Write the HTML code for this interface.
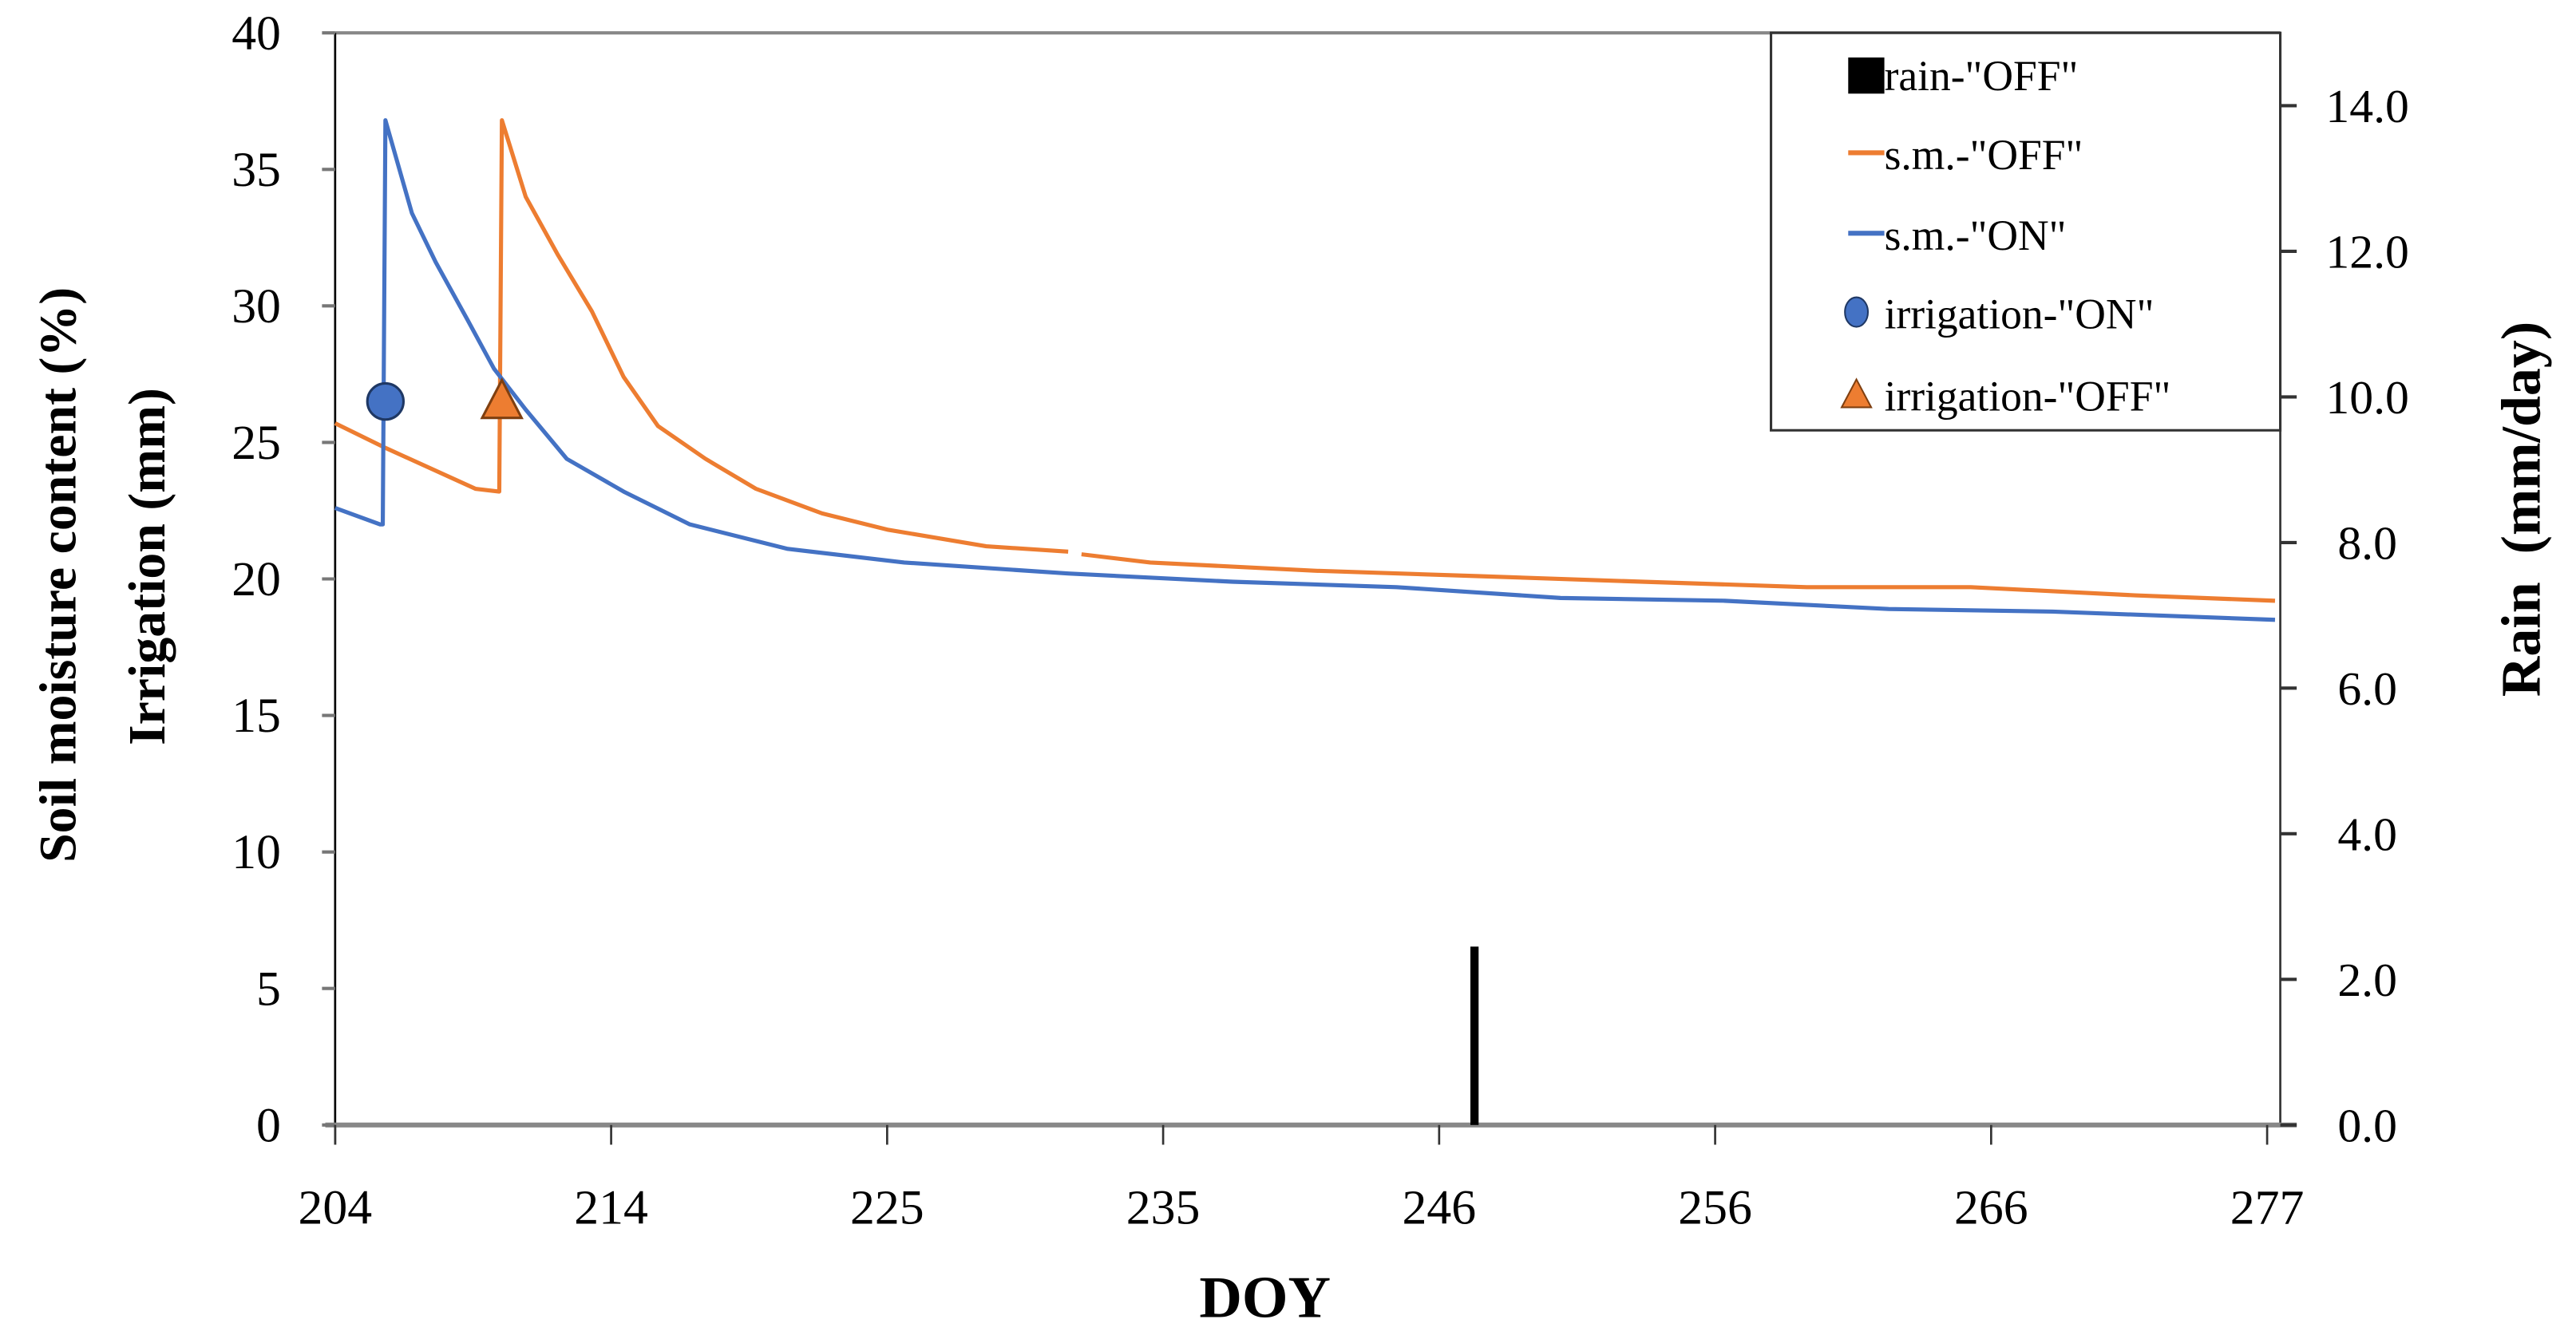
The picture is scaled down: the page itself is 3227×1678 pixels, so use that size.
<!DOCTYPE html>
<html><head><meta charset="utf-8"><style>
html,body{margin:0;padding:0;background:#fff;}
svg{display:block;font-family:"Liberation Serif",serif;}
</style></head><body>
<svg id="chart" width="3227" height="1678" viewBox="0 0 1568 815.3" xmlns="http://www.w3.org/2000/svg">
<g id="axes"></g>
<g id="series"></g>
<g id="legend">
  <rect x="1078" y="20" width="310" height="242" fill="#fff" stroke="#333" stroke-width="1.5"/>
  <rect x="1125" y="35" width="22" height="22" fill="#000"/>
  <text x="1147" y="55" font-size="26">rain-"OFF"</text>
  <line x1="1125" y1="93" x2="1147" y2="93" stroke="#ED7D31" stroke-width="3"/>
  <text x="1147" y="103" font-size="26">s.m.-"OFF"</text>
  <line x1="1125" y1="142" x2="1147" y2="142" stroke="#4472C4" stroke-width="3"/>
  <text x="1147" y="152" font-size="26">s.m.-"ON"</text>
  <ellipse cx="1130" cy="190" rx="7" ry="9" fill="#4472C4" stroke="#1F3864" stroke-width="1"/>
  <text x="1147" y="200" font-size="26">irrigation-"ON"</text>
  <polygon points="1130,231 1139,248 1121,248" fill="#ED7D31" stroke="#7F3F10" stroke-width="1"/>
  <text x="1147" y="250" font-size="26">irrigation-"OFF"</text>
</g>
<text transform="translate(46,350) rotate(-90)" text-anchor="middle" font-size="32" font-weight="bold">Soil moisture content (%)</text>
<text transform="translate(100,345) rotate(-90)" text-anchor="middle" font-size="32" font-weight="bold">Irrigation (mm)</text>
<text transform="translate(1546,310) rotate(-90)" text-anchor="middle" font-size="34" font-weight="bold" xml:space="preserve">Rain  (mm/day)</text>
<text x="770" y="802" text-anchor="middle" font-size="36" font-weight="bold">DOY</text>
</svg>
<script>
const xTickLabels = ["204","214","225","235","246","256","266","277"];
const yLeftTicks = [0,5,10,15,20,25,30,35,40];
const yRightTicks = ["0.0","2.0","4.0","6.0","8.0","10.0","12.0","14.0"];
const smOffDays = [204,205.9,209.3,210.2,210.3,211.2,212.4,213.7,214.9,216.2,218.0,219.9,222.4,224.9,228.6,231.7,null,232.2,234.8,241.0,247.2,253.4,259.6,265.8,272.0,277.3];
const smOffVals = [25.7,24.8,23.3,23.2,36.8,34.0,31.9,29.8,27.4,25.6,24.4,23.3,22.4,21.8,21.2,21.0,null,20.9,20.6,20.3,20.1,19.9,19.7,19.7,19.4,19.2];
const smOnDays = [204,205.7,205.8,205.9,206.9,207.8,209.0,210.0,211.2,212.75,214.9,217.4,221.1,225.5,231.7,237.9,244.1,250.3,256.5,262.7,268.9,277.3];
const smOnVals = [22.6,22.0,22.0,36.8,33.4,31.6,29.5,27.7,26.2,24.4,23.2,22.0,21.1,20.6,20.2,19.9,19.7,19.3,19.2,18.9,18.8,18.5];
const irrigationOnDays = [205.9];
const irrigationOnVals = [26.5];
const irrigationOffDays = [210.3];
const irrigationOffVals = [26.5];
const rainDays = [247.05];
const rainVals = [2.45];

const NS="http://www.w3.org/2000/svg";
const L=204,R=1388,T=20,B=685;
const xs=d=>L+(d-204)*(1176/73);
const yl=v=>B-v*(B-T)/40;
const yr=v=>B-v*(B-T)/15;
function mk(tag,attrs,parent,text){const e=document.createElementNS(NS,tag);for(const k in attrs)e.setAttribute(k,attrs[k]);if(text!==undefined)e.textContent=text;parent.appendChild(e);return e;}
const ax=document.getElementById('axes'), se=document.getElementById('series');

let e;
e=mk('line',{x1:L,y1:T,x2:R,y2:T,stroke:'#888',"stroke-width":2},ax);


e=mk('line',{x1:L,y1:T,x2:L,y2:B+12,stroke:'#000',"stroke-width":1.3},ax);


e=mk('line',{x1:R,y1:T,x2:R,y2:B,stroke:'#333',"stroke-width":1.3},ax);


e=mk('line',{x1:L-6,y1:B,x2:R+10,y2:B,stroke:'#888',"stroke-width":3},ax);



yLeftTicks.forEach(v=>{
  e=mk('line',{x1:L-8,y1:yl(v),x2:L,y2:yl(v),stroke:'#777',"stroke-width":2},ax);
  
  
  e=mk('text',{x:171,y:yl(v)+10,"text-anchor":"end","font-size":30},ax,String(v));
  
  
});
yRightTicks.forEach(t=>{
  const v=parseFloat(t);
  e=mk('line',{x1:R,y1:yr(v),x2:R+10,y2:yr(v),stroke:'#333',"stroke-width":2},ax);
  
  
  e=mk('text',{x:1441,y:yr(v)+10,"text-anchor":"middle","font-size":29},ax,t);
  
  
});
xTickLabels.forEach((t,i)=>{
  const x=L+i*168;
  e=mk('line',{x1:x,y1:B,x2:x,y2:B+12,stroke:'#333',"stroke-width":1.3},ax);
  
  
  e=mk('text',{x:x,y:745,"text-anchor":"middle","font-size":30},ax,t);
  
  
});

function linePath(days,vals){let d='',pen=false;for(let i=0;i<days.length;i++){if(days[i]===null){pen=false;continue;}d+=(pen?'L':'M')+xs(days[i]).toFixed(1)+','+yl(vals[i]).toFixed(1);pen=true;}return d;}
rainDays.forEach((d,i)=>{
  e=mk('rect',{x:xs(d)-2.5,y:yr(rainVals[i]),width:5,height:B-yr(rainVals[i]),fill:'#000'},se);
  
  
});
e=mk('path',{d:linePath(smOffDays,smOffVals),fill:'none',stroke:'#ED7D31',"stroke-width":2.5,"stroke-linejoin":"round"},se);


e=mk('path',{d:linePath(smOnDays,smOnVals),fill:'none',stroke:'#4472C4',"stroke-width":2.5,"stroke-linejoin":"round"},se);


irrigationOnDays.forEach((d,i)=>{
  e=mk('circle',{cx:xs(d),cy:yl(irrigationOnVals[i]),r:11,fill:'#4472C4',stroke:'#1F3864',"stroke-width":1.5},se);
  
  
});
irrigationOffDays.forEach((d,i)=>{
  const x=xs(d),y=yl(irrigationOffVals[i]);
  e=mk('polygon',{points:`${x},${y-13} ${x+12},${y+10} ${x-12},${y+10}`,fill:'#ED7D31',stroke:'#7F3F10',"stroke-width":1.5},se);
  
  
});
</script>
</body></html>
